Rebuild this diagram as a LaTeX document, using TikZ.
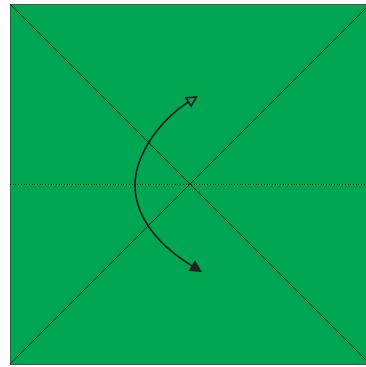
\documentclass[tikz,border=0pt]{standalone}
\usetikzlibrary{arrows.meta}
\definecolor{papergreen}{RGB}{0, 166, 81}
\definecolor{foldline}{RGB}{35, 35, 35}

\begin{document}
\begin{tikzpicture}[
    x=1pt, y=-1pt,
    sheet/.style={fill=papergreen, draw=foldline!80, line width=0.8pt},
    crease/.style={foldline, line width=0.6pt},
    valley/.style={foldline, line width=0.7pt, dotted},
    turn/.style={foldline, line width=1.6pt, {Triangle[length=12pt, width=12pt]}-{Triangle[open, length=12pt, width=12pt]}},
]
\useasboundingbox (0,0) rectangle (366,367);
\clip (0,0) rectangle (366,367);

% Blatt
\draw[sheet] (10,4) rectangle (370,364);
\coordinate (tl) at (10,4);
\coordinate (tr) at (370,4);
\coordinate (bl) at (10,364);
\coordinate (br) at (370,364);
\coordinate (ml) at (10,184);
\coordinate (mr) at (370,184);

% Faltlinien
\draw[crease] (tl) -- (br);
\draw[crease] (bl) -- (tr);
\draw[valley] (ml) -- (mr);

% Umdrehen
\coordinate (low) at (202,272);
\coordinate (bend) at (135,185);
\coordinate (high) at (198,96);
\draw[turn] (low) .. controls (150,240) and (135,210) .. (bend)
  .. controls (135,155) and (160,120) .. (high);

\end{tikzpicture}
\end{document}
